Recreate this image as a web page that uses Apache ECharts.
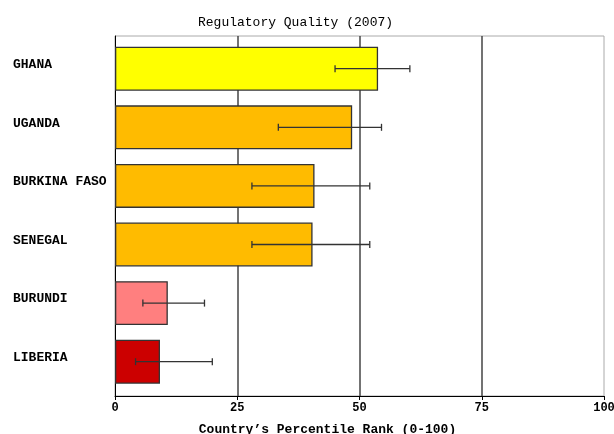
<!DOCTYPE html>
<html>
<head>
<meta charset="utf-8">
<script src="https://cdn.jsdelivr.net/npm/echarts@6/dist/echarts.min.js"></script>
<style>
  html, body { margin: 0; padding: 0; background: #fff; }
  #chart { width: 614px; height: 434px; }
</style>
</head>
<body>
<div id="chart"></div>
<script>
// Regulatory Quality percentile ranks with confidence ranges
const countries = ['GHANA', 'UGANDA', 'BURKINA FASO', 'SENEGAL', 'BURUNDI', 'LIBERIA'];
const rankValues = [53.8, 48.5, 40.8, 40.4, 10.8, 9.2];
const rangeLow  = [45.0, 33.4, 28.0, 28.0, 5.7, 4.2];
const rangeHigh = [60.3, 54.5, 52.1, 52.1, 18.3, 19.9];
const barColors = ['#ffff00', '#ffbb00', '#ffbb00', '#ffbb00', '#ff7f7f', '#cc0000'];
const xTicks = [0, 25, 50, 75, 100];

const FONT = '"Liberation Mono", "DejaVu Sans Mono", monospace';

const chart = echarts.init(document.getElementById('chart'), null, { renderer: 'canvas' });

chart.setOption({
  animation: false,
  backgroundColor: '#ffffff',
  title: {
    text: 'Regulatory Quality (2007)',
    left: 193,
    top: 11,
    textStyle: { fontFamily: FONT, fontSize: 13, fontWeight: 'normal', color: '#000' }
  },
  grid: [
    // frame, value axis and gridlines
    { left: 115, right: 10, top: 36, bottom: 38, outerBoundsMode: 'none',
      show: true, borderColor: '#aaaaaa', borderWidth: 1 },
    // category band area for bars, slightly inset from the frame
    { left: 115, right: 10, top: 39.4, bottom: 43, outerBoundsMode: 'none' }
  ],
  xAxis: [
    {
      gridIndex: 0,
      type: 'value',
      min: xTicks[0],
      max: xTicks[xTicks.length - 1],
      interval: 25,
      name: 'Country\u2019s Percentile Rank (0-100)',
      nameLocation: 'middle',
      nameGap: 27,
      nameTextStyle: { fontFamily: FONT, fontSize: 13, fontWeight: 'bold', color: '#000', padding: [0, 64, 0, 0] },
      axisLine: { show: true, lineStyle: { color: '#000', width: 1 } },
      axisTick: { show: true, length: 4, lineStyle: { color: '#000' } },
      axisLabel: { fontFamily: FONT, fontSize: 12, fontWeight: 'bold', color: '#000', margin: 6 },
      splitLine: { show: true, showMinLine: false, showMaxLine: false, lineStyle: { color: '#444', width: 1.5 } }
    },
    {
      gridIndex: 1,
      type: 'value',
      min: xTicks[0],
      max: xTicks[xTicks.length - 1],
      show: false
    }
  ],
  yAxis: [
    {
      gridIndex: 0,
      type: 'value',
      min: 0, max: 1,
      axisLine: { show: true, lineStyle: { color: '#000', width: 1 } },
      axisTick: { show: false },
      axisLabel: { show: false },
      splitLine: { show: false }
    },
    {
      gridIndex: 1,
      type: 'category',
      data: countries,
      inverse: true,
      axisLine: { show: false },
      axisTick: { show: false },
      axisLabel: {
        fontFamily: FONT, fontSize: 13, fontWeight: 'bold', color: '#000',
        align: 'left', margin: 102, verticalAlign: 'bottom', lineHeight: 8
      },
      splitLine: { show: false }
    }
  ],
  series: [
    {
      type: 'bar',
      xAxisIndex: 1,
      yAxisIndex: 1,
      barWidth: '75%',
      data: rankValues.map((v, i) => ({
        value: v,
        itemStyle: { color: barColors[i], borderColor: '#333', borderWidth: 1.3 }
      })),
      z: 2
    },
    {
      type: 'custom',
      xAxisIndex: 1,
      yAxisIndex: 1,
      z: 3,
      data: countries.map((c, i) => [i, rangeLow[i], rangeHigh[i]]),
      encode: { y: 0, x: [1, 2] },
      renderItem: function (params, api) {
        const idx = api.value(0);
        const p1 = api.coord([api.value(1), idx]);
        const p2 = api.coord([api.value(2), idx]);
        const cap = 3.5;
        const style = { stroke: '#333', lineWidth: 1.3, fill: null };
        return {
          type: 'group',
          children: [
            { type: 'line', shape: { x1: p1[0], y1: p1[1], x2: p2[0], y2: p2[1] }, style: style },
            { type: 'line', shape: { x1: p1[0], y1: p1[1] - cap, x2: p1[0], y2: p1[1] + cap }, style: style },
            { type: 'line', shape: { x1: p2[0], y1: p2[1] - cap, x2: p2[0], y2: p2[1] + cap }, style: style }
          ]
        };
      }
    }
  ]
});
</script>
</body>
</html>
